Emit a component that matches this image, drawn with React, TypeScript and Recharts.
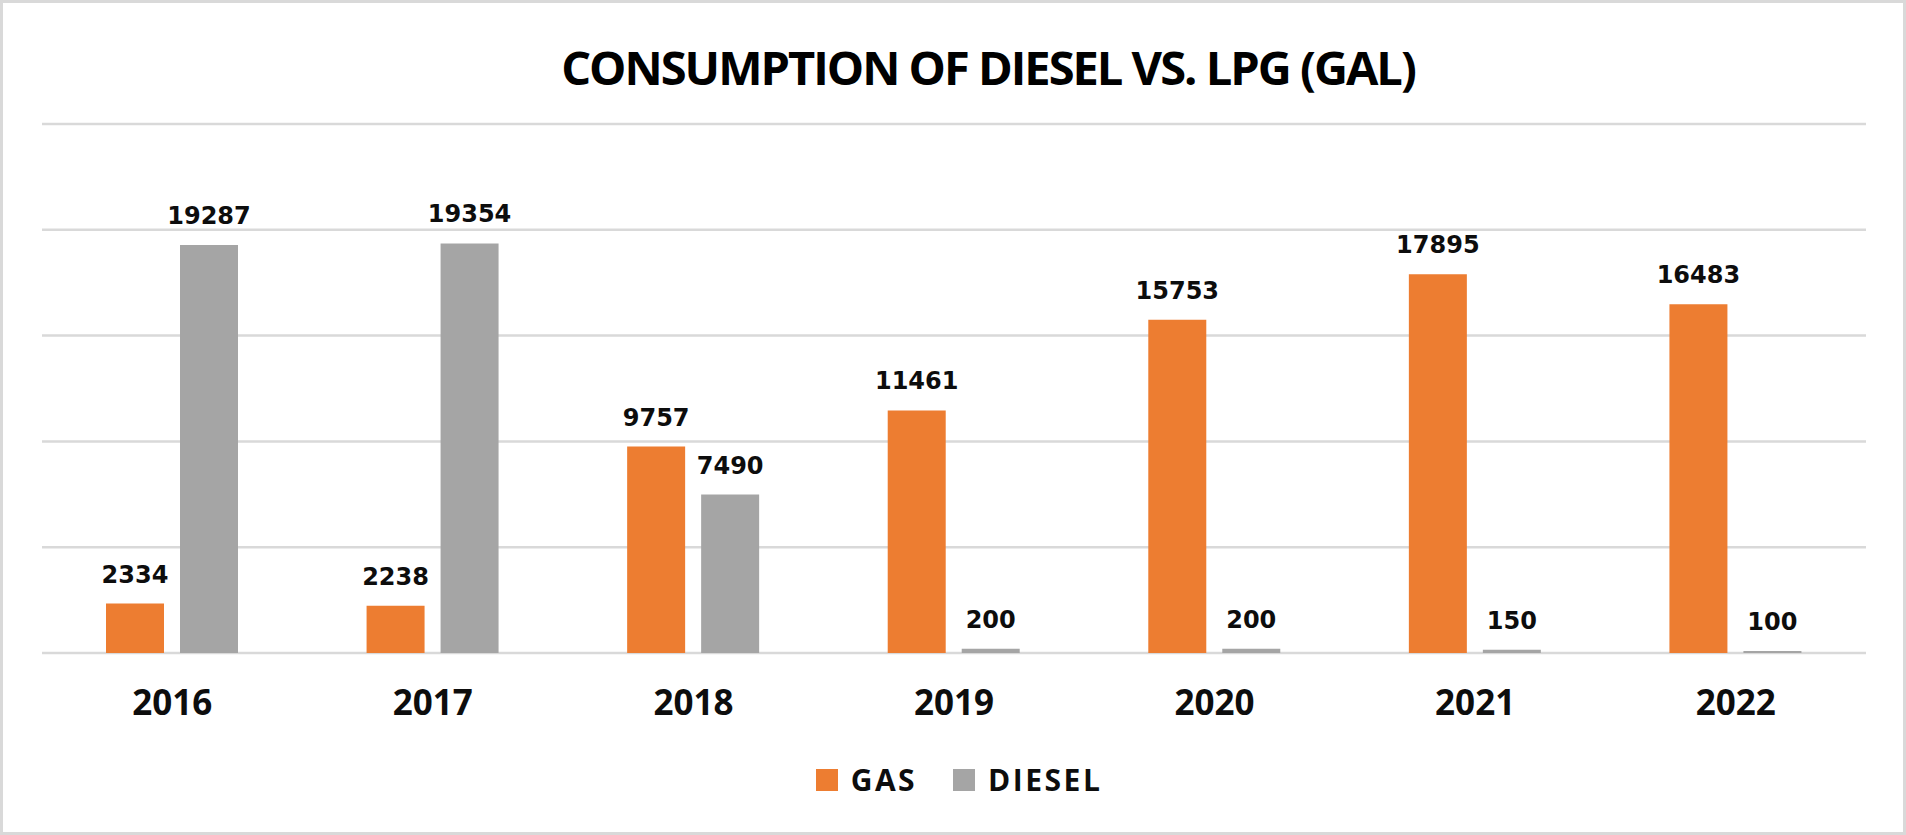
import React from "react";
import { BarChart, Bar, XAxis, YAxis, CartesianGrid, Legend, LabelList } from "recharts";

const YEARS = ["2016", "2017", "2018", "2019", "2020", "2021", "2022"];
const GAS = [2334, 2238, 9757, 11461, 15753, 17895, 16483];
const DIESEL = [19287, 19354, 7490, 200, 200, 150, 100];
const Y_TICKS = [0, 5000, 10000, 15000, 20000, 25000];
const SERIES_ORDER = ["GAS", "DIESEL"];

const COLORS = { gas: "#ED7D31", diesel: "#A5A5A5" };

const data = YEARS.map((year, i) => ({ year, gas: GAS[i], diesel: DIESEL[i] }));

function ChartLegend({ payload }: any) {
  const items = [...(payload || [])].sort(
    (a: any, b: any) => SERIES_ORDER.indexOf(a.value) - SERIES_ORDER.indexOf(b.value)
  );
  return (
    <div style={{ height: 40, display: "flex", justifyContent: "center", alignItems: "center", marginLeft: 10 }}>
      {items.map((p: any, i: number) => (
        <div key={p.value} style={{ display: "flex", alignItems: "center", marginLeft: i ? 36 : 0 }}>
          <span style={{ width: 22, height: 22, background: p.color, display: "inline-block", marginRight: 13 }} />
          <span style={{ fontFamily: "'Open Sans', sans-serif", fontWeight: 700, fontSize: 30, letterSpacing: 2.5, color: "#0d0d0d", lineHeight: "40px" }}>
            {p.value}
          </span>
        </div>
      ))}
    </div>
  );
}

const labelStyle = { fontFamily: "'DejaVu Sans', sans-serif", fontWeight: 700, fontSize: 24, fill: "#0d0d0d" };

export default function App() {
  return (
    <div style={{ position: "absolute", left: 0, top: 0, width: 1906, height: 835, background: "#fff" }}>
      <div
        style={{
          position: "absolute",
          left: 988,
          top: 37,
          transform: "translateX(-50%)",
          whiteSpace: "nowrap",
          fontFamily: "'Open Sans', sans-serif",
          fontWeight: 700,
          fontSize: 47,
          letterSpacing: -2,
          color: "#000",
          lineHeight: "60px",
        }}
      >
        CONSUMPTION OF DIESEL VS. LPG (GAL)
      </div>
      <BarChart
        width={1906}
        height={835}
        data={data}
        margin={{ top: 124, right: 40, left: 42, bottom: 35 }}
        barSize={58}
        barGap={16}
      >
        <CartesianGrid vertical={false} stroke="#d9d9d9" strokeWidth={2.5} />
        <XAxis
          dataKey="year"
          axisLine={false}
          tickLine={false}
          tickSize={0}
          tickMargin={37}
          height={107}
          tick={{ fontFamily: "'Open Sans', sans-serif", fontWeight: 700, fontSize: 35, fill: "#0d0d0d" }}
        />
        <YAxis hide domain={[0, 25000]} ticks={Y_TICKS} />
        <Legend verticalAlign="bottom" content={<ChartLegend />} />
        <Bar dataKey="gas" name="GAS" fill={COLORS.gas} isAnimationActive={false}>
          <LabelList dataKey="gas" position="top" offset={21} style={labelStyle} />
        </Bar>
        <Bar dataKey="diesel" name="DIESEL" fill={COLORS.diesel} isAnimationActive={false}>
          <LabelList dataKey="diesel" position="top" offset={21} style={labelStyle} />
        </Bar>
      </BarChart>
      <div
        style={{
          position: "absolute",
          left: 0,
          top: 0,
          width: 1906,
          height: 835,
          boxSizing: "border-box",
          border: "3px solid #d9d9d9",
          pointerEvents: "none",
        }}
      />
    </div>
  );
}
